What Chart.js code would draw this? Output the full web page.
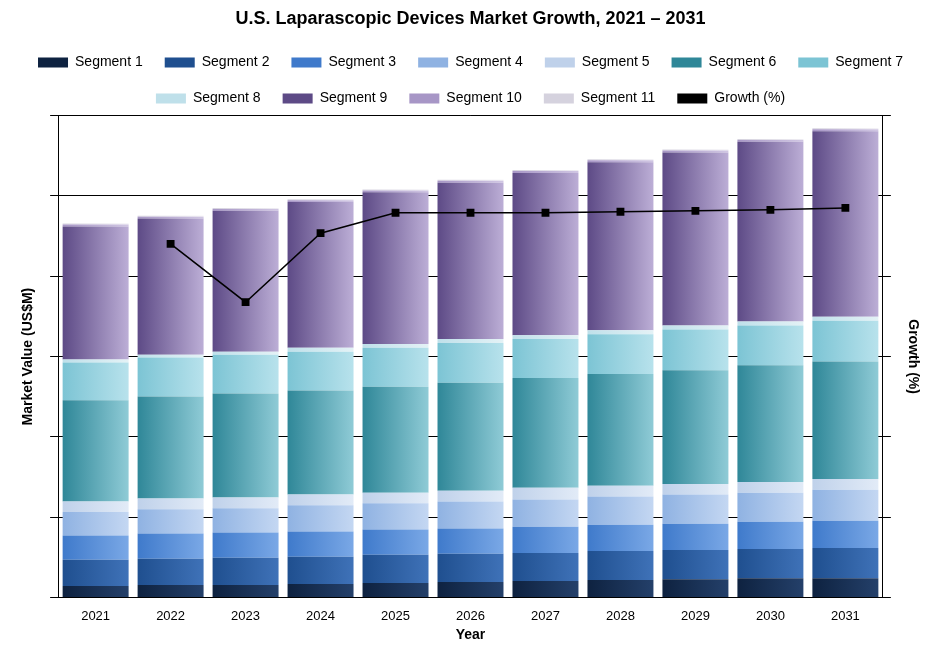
<!DOCTYPE html>
<html><head><meta charset="utf-8">
<script src="https://cdn.jsdelivr.net/npm/chart.js@4"></script>
<style>body{margin:0;background:#fff}#w{width:931px;height:649px}</style>
</head><body><div id="w"><canvas id="c"></canvas></div>
<script>
const years = ['2021','2022','2023','2024','2025','2026','2027','2028','2029','2030','2031'];
const seg1 = [12,13,13,14,15,16,17,18,19,20,20];
const seg2 = [27,27,28,28,29,29,29,30,30,30,31];
const seg3 = [25,26,26,26,26,26,27,27,27,28,28];
const seg4 = [24,25,25,27,27,28,28,29,30,30,32];
const seg5 = [11,11,11,11,11,11,12,11,11,11,11];
const seg6 = [104,105,107,107,109,111,113,115,117,120,121];
const seg7 = [39,40,40,40,40,41,40,41,42,41,42];
const seg8 = [3,3,3,4,4,4,4,4,4,4,4];
const seg9 = [137,140,145,150,156,161,167,173,178,185,191];
const seg10 = [2,2,2,2,2,2,2,2,2,2,2];
const seg11 = [1,1,1,1,1,1,1,1,1,1,1];
const growth = [null,364,304,375,396,396,396,397,398,399,401];

const segs = [seg1,seg2,seg3,seg4,seg5,seg6,seg7,seg8,seg9,seg10,seg11];
const cols = [
 ['#0e2240','#24406a'],['#1f4f8f','#3f72b8'],['#3f7acb','#7aa8e6'],['#8fb2e2','#c4d7f2'],
 ['#bfd1ea','#e2ebf7'],['#2f8798','#8fcbd6'],['#7cc4d4','#b8e2ec'],['#bfe0ea','#e4f2f6'],
 ['#5d4a86','#bcaed6'],['#a796c6','#d0c6e3'],['#d5d2de','#eeecf2']];
function bg(i){
  return (ctx)=>{
    const meta = ctx.chart.getDatasetMeta(ctx.datasetIndex);
    const el = meta.data[ctx.dataIndex];
    if(!el || el.x==null || !el.width) return cols[i][1];
    const g = ctx.chart.ctx.createLinearGradient(el.x-el.width/2,0,el.x+el.width/2,0);
    g.addColorStop(0,cols[i][0]); g.addColorStop(1,cols[i][1]);
    return g;
  };
}
const datasets = segs.map((d,i)=>({type:'bar',label:'Segment '+(i+1),data:d,backgroundColor:bg(i),
  borderWidth:0,yAxisID:'y',stack:'s',order:2,barPercentage:0.88,categoryPercentage:1}));
datasets.push({type:'line',label:'Growth (%)',data:growth,yAxisID:'y1',borderColor:'#000',backgroundColor:'#000',
  borderWidth:1.5,pointStyle:'rect',pointRadius:4.5,order:1});
const chart = new Chart(document.getElementById('c'),{
 type:'bar',data:{labels:years,datasets},
 options:{responsive:true,maintainAspectRatio:false,animation:false,
  layout:{padding:{left:16,right:6,bottom:5}},
  plugins:{
   title:{display:true,text:'U.S. Laparascopic Devices Market Growth, 2021 – 2031',color:'#000',
     font:{family:'Arial, Liberation Sans',size:18,weight:'bold'},padding:{top:8,bottom:4}},
   legend:{labels:{color:'#000',font:{family:'Arial, Liberation Sans',size:14},boxWidth:30,boxHeight:10,padding:22,
     generateLabels:(ch)=>ch.data.datasets.map((ds,i)=>({text:ds.label,datasetIndex:i,
       fillStyle:i<11?cols[i][0]:'#000',strokeStyle:i<11?cols[i][0]:'#000',lineWidth:0}))}},
   tooltip:{enabled:false}},
  scales:{
   x:{stacked:true,grid:{display:false},border:{color:'#000'},
     ticks:{color:'#000',font:{family:'Arial, Liberation Sans',size:13}},
     title:{display:true,text:'Year',color:'#000',font:{family:'Arial, Liberation Sans',size:14,weight:'bold'},padding:0}},
   y:{stacked:true,min:0,max:496,ticks:{stepSize:496/6,callback:()=>' '},
     grid:{color:'#000',tickLength:8},border:{color:'#000'},
     title:{display:true,text:'Market Value (US$M)',color:'#000',font:{family:'Arial, Liberation Sans',size:14,weight:'bold'}}},
   y1:{position:'right',min:0,max:496,ticks:{stepSize:496/6,callback:()=>' '},
     grid:{drawOnChartArea:false,color:'#000',tickLength:8},border:{color:'#000'},
     title:{display:true,text:'Growth (%)',color:'#000',font:{family:'Arial, Liberation Sans',size:14,weight:'bold'}}}
  }}
});
chart.update();
</script></body></html>
